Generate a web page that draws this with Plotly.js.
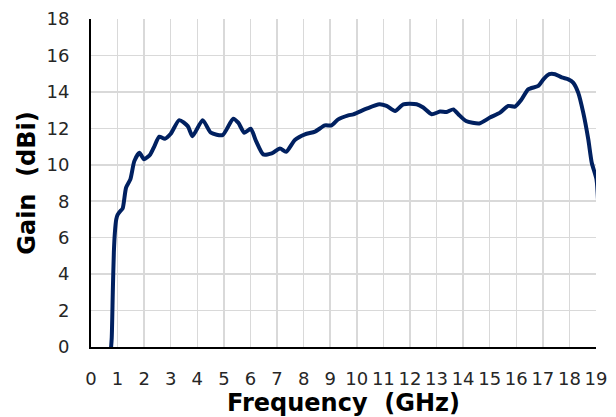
<!DOCTYPE html>
<html>
<head>
<meta charset="utf-8">
<script src="https://cdn.plot.ly/plotly-3.0.1.min.js"></script>
<style>html,body{margin:0;padding:0;background:#fff;}#chart{width:616px;height:417px;}</style>
</head>
<body>
<div id="chart"></div>
<script>
var freqGHz = [0.74, 0.78, 0.82, 0.86, 0.90, 0.95, 1.00, 1.10, 1.19, 1.32, 1.48, 1.63, 1.82, 2.00, 2.23, 2.38, 2.57, 2.78, 3.00, 3.32, 3.64, 3.82, 4.20, 4.51, 4.95, 5.35, 5.54, 5.77, 6.01, 6.21, 6.48, 6.80, 7.11, 7.34, 7.67, 8.05, 8.43, 8.80, 9.05, 9.30, 9.68, 9.87, 10.37, 10.85, 11.12, 11.44, 11.75, 12.25, 12.50, 12.82, 13.13, 13.38, 13.63, 13.82, 14.11, 14.61, 15.01, 15.39, 15.70, 15.95, 16.20, 16.45, 16.83, 17.02, 17.24, 17.46, 17.71, 17.96, 18.14, 18.33, 18.52, 18.71, 18.84, 19.02, 19.08];
var gainDBi = [-0.3, 0.5, 3.0, 5.2, 6.3, 7.0, 7.25, 7.45, 7.6, 8.75, 9.2, 10.2, 10.66, 10.3, 10.57, 11.0, 11.54, 11.43, 11.7, 12.45, 12.12, 11.57, 12.45, 11.76, 11.63, 12.53, 12.31, 11.76, 11.98, 11.3, 10.57, 10.62, 10.9, 10.71, 11.36, 11.67, 11.82, 12.16, 12.16, 12.49, 12.71, 12.77, 13.08, 13.32, 13.23, 12.95, 13.32, 13.32, 13.14, 12.77, 12.92, 12.9, 13.04, 12.77, 12.4, 12.27, 12.59, 12.86, 13.23, 13.19, 13.59, 14.14, 14.33, 14.69, 14.97, 14.97, 14.79, 14.69, 14.51, 13.96, 12.86, 11.39, 10.11, 9.19, 7.9];
var xTicks = [0,1,2,3,4,5,6,7,8,9,10,11,12,13,14,15,16,17,18,19];
var yTicks = [0,2,4,6,8,10,12,14,16,18];

var trace = {
  x: freqGHz, y: gainDBi, type: 'scatter', mode: 'lines',
  line: {color: '#002060', width: 4, shape: 'spline', smoothing: 0.6},
  hoverinfo: 'skip'
};
var font = "'DejaVu Sans', sans-serif";
var layout = {
  width: 616, height: 417,
  margin: {l: 91, r: 20, t: 19, b: 70},
  paper_bgcolor: '#fff', plot_bgcolor: '#fff',
  showlegend: false,
  font: {family: font, color: '#262626'},
  xaxis: {
    range: [0, 19], tickvals: xTicks, ticktext: xTicks.map(String),
    showgrid: true, gridcolor: '#d9d9d9', gridwidth: 1.5,
    showline: true, linecolor: '#000', linewidth: 2,
    zeroline: false,
    ticks: 'outside', ticklen: 14, tickcolor: 'rgba(0,0,0,0)',
    tickfont: {family: font, size: 18, color: '#262626'},
    title: {text: 'Frequency\u00a0 (GHz)', font: {family: font, size: 24, color: '#000', weight: 'bold'}, standoff: 0}
  },
  yaxis: {
    range: [0, 18], tickvals: yTicks, ticktext: yTicks.map(String),
    showgrid: true, gridcolor: '#d9d9d9', gridwidth: 1.5,
    showline: true, linecolor: '#000', linewidth: 2,
    zeroline: false,
    ticks: 'outside', ticklen: 16, tickcolor: 'rgba(0,0,0,0)',
    tickfont: {family: font, size: 18, color: '#262626'},
    title: {text: 'Gain\u00a0 (dBi)', font: {family: font, size: 24, color: '#000', weight: 'bold'}, standoff: 4}
  }
};
Plotly.newPlot('chart', [trace], layout, {staticPlot: true, displayModeBar: false});
</script>
</body>
</html>
